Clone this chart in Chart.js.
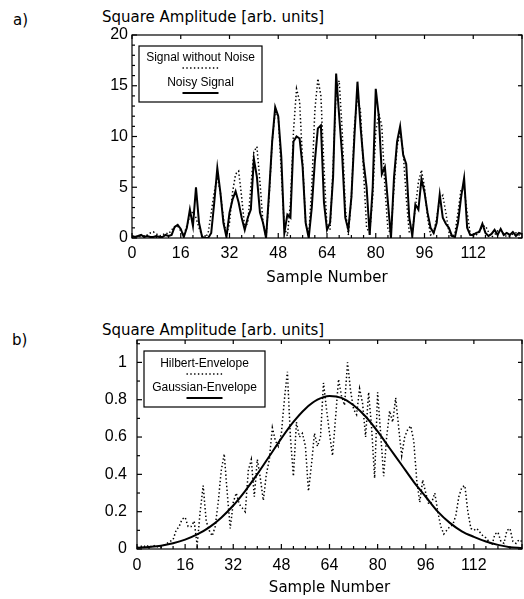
<!DOCTYPE html>
<html>
<head>
<meta charset="utf-8">
<script src="https://cdn.jsdelivr.net/npm/chart.js@4.4.1/dist/chart.umd.min.js"></script>
<style>
  body { margin: 0; background: #fff; width: 524px; height: 599px; position: relative; overflow: hidden; }
  .lbl { position: absolute; white-space: nowrap; line-height: 1; font-family: "DejaVu Sans", sans-serif; font-size: 15px; color: #000; }
  canvas { position: absolute; left: 0; }
</style>
</head>
<body>
<div class="lbl" style="left:13px;top:13px">a)</div>
<div class="lbl" style="left:102px;top:10px">Square Amplitude [arb. units]</div>
<div class="lbl" style="left:12px;top:333px">b)</div>
<div class="lbl" style="left:102px;top:323px">Square Amplitude [arb. units]</div>
<canvas id="chartA" width="524" height="300" style="top:0"></canvas>
<canvas id="chartB" width="524" height="299" style="top:300px"></canvas>
<script>
// a) squared amplitude per sample number 0..128
const cleanSignal = [
  0.0, 0.1, 0.2, 0.1, 0.2, 0.3, 0.5, 0.6, 0.4, 0.2, 0.3, 0.5, 0.4, 0.8, 1.1, 1.2,
  0.7, 0.3, 1.2, 2.2, 2.6, 2.0, 1.0, 0.2, 0.0, 0.5, 2.5, 4.5, 6.0, 4.5, 2.0, 0.2,
  1.5, 4.5, 6.3, 6.6, 4.0, 1.0, 1.5, 5.0, 8.5, 9.0, 5.5, 1.5, 0.1, 4.0, 9.5, 12.5,
  12.0, 6.5, 1.0, 0.2, 3.5, 10.5, 14.7, 13.5, 7.5, 1.5, 0.2, 5.0, 12.5, 15.7, 14.0, 7.0,
  1.0, 0.8, 7.0, 14.5, 15.5, 10.5, 3.0, 0.3, 4.0, 11.0, 14.0, 12.5, 6.5, 1.0, 0.5, 4.0,
  10.5, 12.3, 11.0, 5.0, 0.8, 0.5, 5.0, 9.0, 10.5, 8.5, 4.0, 0.5, 0.6, 3.0, 5.5, 6.7,
  5.0, 2.0, 0.3, 0.5, 2.0, 3.8, 4.2, 2.5, 0.6, 0.1, 0.5, 2.5, 4.8, 5.0, 2.5, 0.4,
  0.1, 0.3, 0.7, 1.1, 1.2, 0.6, 0.1, 0.3, 0.7, 0.8, 0.4, 0.1, 0.2, 0.4, 0.5, 0.3,
  0.1
];
const noisySignal = [
  0.2, 0.1, 0.2, 0.3, 0.1, 0.2, 0.1, 0.1, 0.2, 0.1, 0.1, 0.3, 0.2, 0.3, 1.1, 1.3,
  0.9, 0.1, 1.0, 2.8, 1.2, 5.0, 1.5, 0.1, 0.0, 0.0, 0.5, 3.5, 6.9, 4.5, 1.5, 0.1,
  2.5, 3.8, 4.6, 3.5, 2.0, 0.8, 2.0, 2.8, 7.8, 6.0, 2.5, 1.5, 0.0, 4.5, 9.5, 12.9,
  12.0, 8.0, 0.5, 2.3, 2.0, 9.5, 10.0, 9.8, 7.0, 1.5, 0.0, 3.0, 7.5, 10.8, 11.1, 3.5,
  0.8, 1.5, 6.0, 16.2, 12.0, 8.0, 2.0, 0.8, 4.0, 10.0, 15.4, 11.0, 7.5, 5.0, 0.3, 5.0,
  14.7, 12.0, 6.3, 7.0, 3.5, 0.0, 6.0, 9.5, 11.0, 8.2, 7.3, 2.0, 0.2, 3.3, 2.8, 5.8,
  4.5, 2.5, 1.0, 0.5, 1.5, 4.3, 2.0, 1.4, 1.0, 0.2, 0.1, 1.5, 4.0, 5.9, 1.0, 0.3,
  0.3, 0.5, 0.6, 1.4, 0.5, 0.2, 0.4, 0.8, 0.3, 0.9, 0.3, 0.5, 0.3, 0.6, 0.2, 0.5,
  0.4
];

// b) envelopes
const hilbertEnvelope = [
  0.01, 0.01, 0.02, 0.01, 0.02, 0.01, 0.02, 0.01, 0.01, 0.02, 0.03, 0.04, 0.05, 0.10, 0.12, 0.16,
  0.17, 0.12, 0.12, 0.15, 0.02, 0.20, 0.34, 0.15, 0.10, 0.07, 0.12, 0.25, 0.42, 0.51, 0.30, 0.11,
  0.25, 0.30, 0.24, 0.22, 0.20, 0.42, 0.48, 0.28, 0.48, 0.38, 0.26, 0.40, 0.48, 0.65, 0.58, 0.55,
  0.62, 0.80, 0.95, 0.60, 0.39, 0.68, 0.60, 0.62, 0.55, 0.31, 0.45, 0.62, 0.55, 0.60, 0.89, 0.75,
  0.62, 0.50, 0.70, 0.91, 0.82, 0.77, 1.00, 0.85, 0.75, 0.72, 0.86, 0.78, 0.60, 0.84, 0.65, 0.38,
  0.84, 0.62, 0.39, 0.60, 0.74, 0.68, 0.81, 0.65, 0.50, 0.60, 0.64, 0.66, 0.58, 0.37, 0.25, 0.37,
  0.30, 0.24, 0.25, 0.30, 0.20, 0.12, 0.08, 0.10, 0.12, 0.13, 0.18, 0.28, 0.33, 0.34, 0.20, 0.11,
  0.10, 0.11, 0.09, 0.07, 0.06, 0.04, 0.02, 0.08, 0.09, 0.04, 0.03, 0.10, 0.11, 0.04, 0.03, 0.05,
  0.04
];
const gaussSamples = [0, 4, 8, 12, 16, 20, 24, 28, 32, 36, 40, 44, 48, 52, 56, 60, 64,
  68, 72, 76, 80, 84, 88, 92, 96, 100, 104, 108, 112, 116, 120, 124, 128];
const gaussEnvelope = [0.006, 0.011, 0.018, 0.031, 0.05, 0.078, 0.116, 0.168, 0.233, 0.312, 0.401, 0.497, 0.593, 0.681, 0.752, 0.80, 0.82,
  0.81, 0.77, 0.71, 0.63, 0.54, 0.45, 0.36, 0.28, 0.20, 0.14, 0.095, 0.065, 0.04, 0.022, 0.01, 0.005];

const xTickLabels = [0, 16, 32, 48, 64, 80, 96, 112];

const tickFont = { family: 'Liberation Sans', size: 16 };
const titleFont = { family: 'DejaVu Sans', size: 15 };

// box around the plot plus inward tick marks
const framePlugin = {
  id: 'frame',
  afterDatasetsDraw(chart, args, o) {
    const { ctx, chartArea: a, scales: { x, y } } = chart;
    ctx.save();
    ctx.strokeStyle = '#000';
    ctx.lineWidth = 1.2;
    ctx.strokeRect(a.left, a.top, a.right - a.left, a.bottom - a.top);
    const line = (x1, y1, x2, y2) => { ctx.beginPath(); ctx.moveTo(x1, y1); ctx.lineTo(x2, y2); ctx.stroke(); };
    const isMajor = (v, step) => Math.abs(v / step - Math.round(v / step)) < 1e-6;
    for (let v = x.min; v <= x.max + 1e-9; v += o.xMinor) {
      const px = x.getPixelForValue(v);
      const major = isMajor(v, o.xMajor);
      line(px, a.bottom, px, a.bottom - (major ? 5 : 3));
      if (major) line(px, a.top, px, a.top + 4);
    }
    for (let v = y.min; v <= y.max + 1e-9; v += o.yMinor) {
      const py = y.getPixelForValue(v);
      const major = isMajor(v, o.yMajor);
      line(a.left, py, a.left + (major ? 5 : 3), py);
      if (major) line(a.right, py, a.right - 4, py);
    }
    ctx.restore();
  }
};

// boxed legend: label text with a line sample underneath
const boxLegend = {
  id: 'boxLegend',
  afterDraw(chart, args, o) {
    const ctx = chart.ctx;
    ctx.save();
    ctx.fillStyle = '#fff';
    ctx.fillRect(o.left, o.top, o.width, o.height);
    ctx.strokeStyle = '#000';
    ctx.lineWidth = 1.2;
    ctx.strokeRect(o.left, o.top, o.width, o.height);
    const cx = o.left + o.width / 2;
    chart.data.datasets.forEach((ds, i) => {
      const ty = o.top + o.rowTop + i * o.rowGap;
      ctx.fillStyle = '#000';
      ctx.font = '12px "Liberation Sans"';
      ctx.textAlign = 'center';
      ctx.textBaseline = 'middle';
      ctx.fillText(ds.label, cx, ty);
      ctx.setLineDash(ds.borderDash || []);
      ctx.lineWidth = ds.borderWidth;
      ctx.beginPath();
      ctx.moveTo(cx - 18, ty + o.lineOff);
      ctx.lineTo(cx + 18, ty + o.lineOff);
      ctx.stroke();
      ctx.setLineDash([]);
    });
    ctx.restore();
  }
};

function makeOptions(cfg) {
  return {
    responsive: false,
    animation: false,
    layout: { padding: { left: 0, top: cfg.top, right: 2, bottom: 0 } },
    plugins: {
      legend: { display: false },
      tooltip: { enabled: false },
      frame: cfg.frame,
      boxLegend: cfg.legend
    },
    elements: { point: { radius: 0 } },
    scales: {
      x: {
        type: 'linear', min: 0, max: 128,
        afterBuildTicks: s => { s.ticks = xTickLabels.map(v => ({ value: v })); },
        afterFit: s => { s.height = cfg.xHeight; },
        grid: { display: false, drawTicks: false },
        border: { display: false },
        ticks: { font: tickFont, color: '#000', padding: cfg.xPad, maxRotation: 0 },
        title: { display: true, text: 'Sample Number', font: titleFont, color: '#000', padding: { top: 0, bottom: cfg.titlePad } }
      },
      y: {
        type: 'linear', min: 0, max: cfg.yMax,
        afterFit: s => { s.width = cfg.left; },
        grid: { display: false, drawTicks: false },
        border: { display: false },
        ticks: {
          font: tickFont, color: '#000', padding: cfg.yPad, stepSize: cfg.yStep, includeBounds: false,
          callback: v => String(Number(v.toFixed(2)))
        }
      }
    }
  };
}

new Chart(document.getElementById('chartA'), {
  type: 'line',
  data: {
    datasets: [
      {
        label: 'Signal without Noise',
        data: cleanSignal.map((v, i) => ({ x: i, y: v })),
        borderColor: '#000', borderWidth: 1.5, borderDash: [1.4, 2.4], fill: false, tension: 0
      },
      {
        label: 'Noisy Signal',
        data: noisySignal.map((v, i) => ({ x: i, y: v })),
        borderColor: '#000', borderWidth: 2, fill: false, tension: 0
      }
    ]
  },
  options: makeOptions({
    top: 35, left: 132, xHeight: 62, xPad: 6, yPad: 4, titlePad: 13, yMax: 20, yStep: 5,
    frame: { xMinor: 4, xMajor: 16, yMinor: 1, yMajor: 5 },
    legend: { left: 139, top: 46, width: 123, height: 56, rowTop: 12, rowGap: 25, lineOff: 10 }
  }),
  plugins: [framePlugin, boxLegend]
});

new Chart(document.getElementById('chartB'), {
  type: 'line',
  data: {
    datasets: [
      {
        label: 'Hilbert-Envelope',
        data: hilbertEnvelope.map((v, i) => ({ x: i, y: v })),
        borderColor: '#000', borderWidth: 1.5, borderDash: [1.4, 2.4], fill: false, tension: 0
      },
      {
        label: 'Gaussian-Envelope',
        data: gaussSamples.map((s, i) => ({ x: s, y: gaussEnvelope[i] })),
        borderColor: '#000', borderWidth: 2, fill: false, cubicInterpolationMode: 'monotone'
      }
    ]
  },
  options: makeOptions({
    top: 40, left: 137, xHeight: 50, xPad: 7, yPad: 10, titlePad: 2, yMax: 1.12, yStep: 0.2,
    frame: { xMinor: 4, xMajor: 16, yMinor: 0.1, yMajor: 0.2 },
    legend: { left: 144, top: 51, width: 121, height: 56, rowTop: 13, rowGap: 24, lineOff: 10 }
  }),
  plugins: [framePlugin, boxLegend]
});
</script>
</body>
</html>
